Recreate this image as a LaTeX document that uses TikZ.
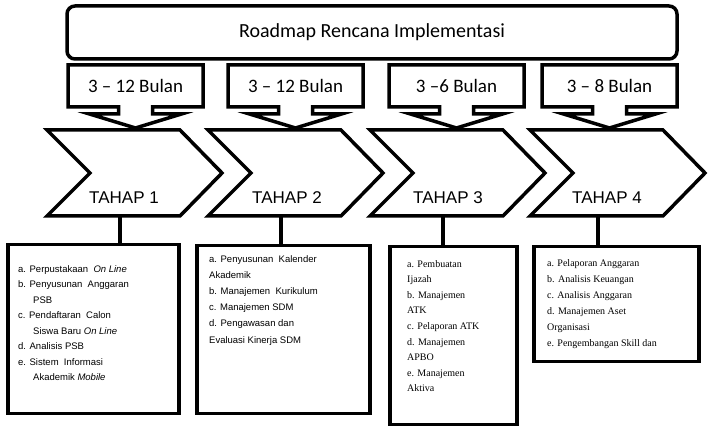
\documentclass[tikz,border=0pt]{standalone}
\usepackage{fontspec}
\setmainfont{Liberation Sans}
\newfontfamily\calfont{Carlito}
\newfontfamily\serfont{Liberation Serif}
\usetikzlibrary{positioning}

\begin{document}
\begin{tikzpicture}[
    x=1pt, y=-1pt,
    heavy/.style={draw, line width=3.5pt},
    titlebox/.style={heavy, rounded corners=8pt, minimum width=610pt, minimum height=53pt, font=\calfont\fontsize{20}{24}\selectfont},
    dur/.style={inner sep=0pt, font=\calfont\fontsize{19}{22}\selectfont},
    tahap/.style={inner sep=0pt, font=\fontsize{17}{20}\selectfont},
    listbox/.style={heavy, anchor=north west, inner sep=0pt},
    sanslist/.style={anchor=north west, align=left, inner sep=0pt, font=\fontsize{9.5}{15.5}\selectfont},
    seriflist/.style={anchor=north west, align=left, inner sep=0pt, font=\serfont\fontsize{10}{15.6}\selectfont},
    durbox/.pic={
      \draw[heavy] (-67.5,-21) -- (67.5,-21) -- (67.5,21) -- (17,21) -- (17,28) -- (46,28)
        -- (0,42) -- (-46,28) -- (-17,28) -- (-17,21) -- (-67.5,21) -- cycle;
      \coordinate (-tip) at (0,42);
    },
    chevron/.pic={
      \draw[heavy] (0,0) -- (133,0) -- (175,43) -- (133,86) -- (0,86) -- (43,43) -- cycle;
      \coordinate (-bot) at (73,86);
    }
  ]
    \useasboundingbox (0,0) rectangle (713,427);

    % header
    \node[titlebox] (title) at (372,32.5) {Roadmap Rencana Implementasi};

    % durations
    \pic (c1) at (135.5,86) {durbox};
    \pic (c2) at (295.5,86) {durbox};
    \pic (c3) at (456.5,86) {durbox};
    \pic (c4) at (609.5,86) {durbox};
    \node[dur] (d1) at (135.5,86) {3 – 12 Bulan};
    \node[dur] (d2) at (295.5,86) {3 – 12 Bulan};
    \node[dur] (d3) at (456.5,86) {3 –6 Bulan};
    \node[dur] (d4) at (609.5,86) {3 – 8 Bulan};

    % stages
    \pic (t1) at (47,130) {chevron};
    \pic (t2) at (208,130) {chevron};
    \pic (t3) at (370,130) {chevron};
    \pic (t4) at (530,130) {chevron};
    \node[tahap] (s1) at (124,198) {TAHAP 1};
    \node[tahap] (s2) at (287,198) {TAHAP 2};
    \node[tahap] (s3) at (448,198) {TAHAP 3};
    \node[tahap] (s4) at (607,198) {TAHAP 4};

    % activity lists
    \node[listbox, minimum width=171pt, minimum height=169pt] (l1) at (6,243) {};
    \node[listbox, minimum width=173pt, minimum height=168pt] (l2) at (195,244) {};
    \node[listbox, minimum width=127pt, minimum height=178pt] (l3) at (388,245) {};
    \node[listbox, minimum width=165pt, minimum height=115pt] (l4) at (532,245) {};

    \node[sanslist] (a1) at (18,265) {a. Perpustakaan \ \textit{On Line}\\
      b. Penyusunan \ Anggaran\\
      \hspace*{15pt}PSB\\
      c. Pendaftaran \ Calon\\
      \hspace*{15pt}Siswa Baru \textit{On Line}\\
      d. Analisis PSB\\
      e. Sistem \ Informasi\\
      \hspace*{15pt}Akademik \textit{Mobile}};
    \node[sanslist, font=\fontsize{9.5}{16.2}\selectfont] (a2) at (209,255) {a. Penyusunan \ Kalender\\
      Akademik\\
      b. Manajemen \ Kurikulum\\
      c. Manajemen SDM\\
      d. Pengawasan dan\\
      Evaluasi Kinerja SDM};
    \node[seriflist] (a3) at (407,260) {a. Pembuatan\\
      Ijazah\\
      b. Manajemen\\
      ATK\\
      c. Pelaporan ATK\\
      d. Manajemen\\
      APBO\\
      e. Manajemen\\
      Aktiva};
    \node[seriflist, font=\serfont\fontsize{10}{16}\selectfont] (a4) at (547,259) {a. Pelaporan Anggaran\\
      b. Analisis Keuangan\\
      c. Analisis Anggaran\\
      d. Manajemen Aset\\
      Organisasi\\
      e. Pengembangan Skill dan};

    % links
    \draw[heavy] (t1-bot) -- (t1-bot |- l1.north);
    \draw[heavy] (t2-bot) -- (t2-bot |- l2.north);
    \draw[heavy] (t3-bot) -- (t3-bot |- l3.north);
    \draw[heavy] ([xshift=-5pt]t4-bot) -- ([xshift=-5pt]t4-bot |- l4.north);
  \end{tikzpicture}
\end{document}
